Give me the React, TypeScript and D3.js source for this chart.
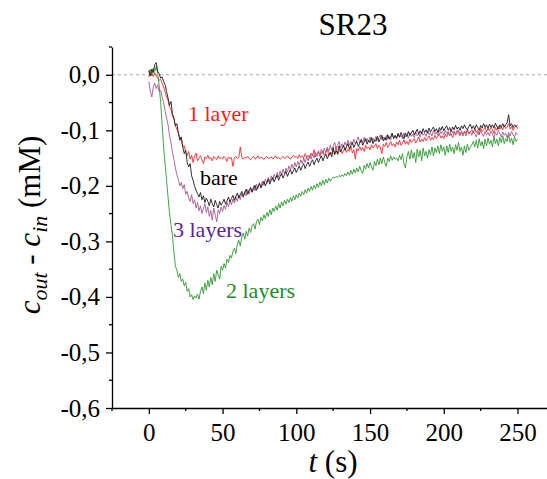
import { useEffect, useRef } from 'react';
import * as d3 from 'd3';

// sampling times (s), one per second from 0 to 250
const times: number[] = d3.range(0, 251, 1);

// c_out - c_in (mM)
const oneLayer: number[] = [
  -0.004, 0.006, 0.002, -0.003, 0.004, -0.002, -0.006, -0.01, -0.008, -0.016,
  -0.022, -0.03, -0.04, -0.046, -0.058, -0.062, -0.075, -0.08, -0.092, -0.098,
  -0.105, -0.112, -0.118, -0.13, -0.128, -0.14, -0.146, -0.138, -0.152, -0.145,
  -0.158, -0.147, -0.141, -0.155, -0.15, -0.146, -0.153, -0.16, -0.148, -0.151,
  -0.145, -0.152, -0.149, -0.155, -0.147, -0.15, -0.153, -0.146, -0.151, -0.149,
  -0.152, -0.147, -0.15, -0.156, -0.148, -0.151, -0.149, -0.165, -0.15, -0.147,
  -0.151, -0.149, -0.13, -0.148, -0.152, -0.149, -0.15, -0.147, -0.151, -0.153,
  -0.149, -0.147, -0.152, -0.15, -0.146, -0.151, -0.148, -0.15, -0.153, -0.149,
  -0.147, -0.151, -0.15, -0.148, -0.152, -0.149, -0.146, -0.151, -0.149, -0.152,
  -0.15, -0.147, -0.151, -0.149, -0.146, -0.15, -0.152, -0.148, -0.145, -0.149,
  -0.147, -0.151, -0.144, -0.149, -0.146, -0.15, -0.142, -0.148, -0.145, -0.15,
  -0.141, -0.146, -0.135, -0.148, -0.143, -0.139, -0.147, -0.141, -0.137, -0.145,
  -0.14, -0.133, -0.146, -0.139, -0.143, -0.136, -0.141, -0.129, -0.144, -0.138,
  -0.135, -0.142, -0.137, -0.131, -0.14, -0.134, -0.138, -0.128, -0.141, -0.135,
  -0.152, -0.133, -0.137, -0.129, -0.136, -0.131, -0.138, -0.127, -0.133, -0.13,
  -0.135, -0.126, -0.132, -0.128, -0.124, -0.133, -0.127, -0.131, -0.142, -0.125,
  -0.129, -0.122, -0.131, -0.126, -0.12, -0.128, -0.124, -0.13, -0.121, -0.126,
  -0.118, -0.127, -0.123, -0.117, -0.125, -0.12, -0.126, -0.116, -0.122, -0.119,
  -0.115, -0.123, -0.118, -0.112, -0.121, -0.116, -0.12, -0.113, -0.119, -0.114,
  -0.11, -0.118, -0.113, -0.117, -0.109, -0.115, -0.111, -0.106, -0.114, -0.11,
  -0.115, -0.107, -0.112, -0.104, -0.11, -0.106, -0.113, -0.103, -0.109, -0.105,
  -0.1, -0.108, -0.104, -0.11, -0.101, -0.106, -0.098, -0.107, -0.103, -0.099,
  -0.105, -0.097, -0.104, -0.1, -0.108, -0.096, -0.102, -0.099, -0.094, -0.103,
  -0.097, -0.101, -0.093, -0.099, -0.106, -0.095, -0.1, -0.092, -0.098, -0.094,
  -0.099, -0.091, -0.097, -0.094, -0.088, -0.098, -0.093, -0.1, -0.095, -0.092,
  -0.097,
];
const bare: number[] = [
  0.008, -0.002, 0.01, 0.004, 0.018, 0.022, 0.006, 0.002, -0.006, -0.004,
  -0.012, -0.018, -0.03, -0.042, -0.055, -0.048, -0.07, -0.078, -0.092, -0.088,
  -0.105, -0.118, -0.112, -0.13, -0.142, -0.136, -0.158, -0.166, -0.16, -0.182,
  -0.19, -0.2, -0.208, -0.214, -0.22, -0.212, -0.225, -0.218, -0.23, -0.222,
  -0.228, -0.236, -0.224, -0.232, -0.238, -0.226, -0.234, -0.24, -0.228, -0.235,
  -0.23, -0.224, -0.233, -0.227, -0.22, -0.229, -0.223, -0.217, -0.226, -0.219,
  -0.213, -0.222, -0.216, -0.21, -0.219, -0.212, -0.206, -0.215, -0.208, -0.203,
  -0.211, -0.205, -0.199, -0.208, -0.201, -0.196, -0.204, -0.198, -0.192, -0.2,
  -0.194, -0.188, -0.197, -0.19, -0.185, -0.193, -0.186, -0.181, -0.19, -0.183,
  -0.178, -0.186, -0.18, -0.174, -0.183, -0.176, -0.171, -0.179, -0.173, -0.168,
  -0.176, -0.17, -0.164, -0.172, -0.165, -0.16, -0.169, -0.162, -0.157, -0.165,
  -0.158, -0.153, -0.162, -0.155, -0.15, -0.158, -0.151, -0.146, -0.155, -0.148,
  -0.143, -0.151, -0.145, -0.14, -0.148, -0.131, -0.144, -0.137, -0.142, -0.128,
  -0.139, -0.133, -0.127, -0.136, -0.13, -0.124, -0.134, -0.127, -0.122, -0.131,
  -0.125, -0.12, -0.129, -0.123, -0.117, -0.127, -0.121, -0.115, -0.125, -0.118,
  -0.122, -0.113, -0.124, -0.117, -0.12, -0.111, -0.121, -0.115, -0.109, -0.119,
  -0.113, -0.118, -0.108, -0.116, -0.111, -0.105, -0.115, -0.109, -0.114, -0.106,
  -0.112, -0.104, -0.11, -0.115, -0.105, -0.111, -0.102, -0.109, -0.105, -0.1,
  -0.108, -0.103, -0.098, -0.107, -0.101, -0.106, -0.097, -0.104, -0.099, -0.105,
  -0.096, -0.103, -0.098, -0.094, -0.102, -0.097, -0.104, -0.095, -0.1, -0.093,
  -0.101, -0.096, -0.092, -0.1, -0.095, -0.102, -0.094, -0.099, -0.091, -0.098,
  -0.094, -0.1, -0.092, -0.097, -0.09, -0.096, -0.099, -0.093, -0.089, -0.097,
  -0.092, -0.098, -0.09, -0.095, -0.1, -0.091, -0.096, -0.088, -0.094, -0.09,
  -0.097, -0.089, -0.094, -0.09, -0.096, -0.087, -0.093, -0.098, -0.09, -0.095,
  -0.088, -0.094, -0.09, -0.086, -0.072, -0.092, -0.088, -0.095, -0.09, -0.093,
  -0.091,
];
const threeLayers: number[] = [
  -0.012, -0.03, -0.04, -0.022, -0.015, -0.025, -0.018, -0.03, -0.028, -0.04,
  -0.05, -0.065, -0.078, -0.09, -0.11, -0.122, -0.14, -0.152, -0.168, -0.18,
  -0.188, -0.2, -0.194, -0.205, -0.198, -0.215, -0.21, -0.222, -0.228, -0.216,
  -0.232, -0.225, -0.24, -0.23, -0.245, -0.236, -0.25, -0.241, -0.232, -0.248,
  -0.238, -0.255, -0.244, -0.262, -0.24, -0.252, -0.265, -0.243, -0.25, -0.238,
  -0.246, -0.235, -0.242, -0.23, -0.238, -0.226, -0.234, -0.224, -0.231, -0.22,
  -0.228, -0.216, -0.225, -0.214, -0.221, -0.21, -0.218, -0.207, -0.215, -0.204,
  -0.212, -0.2, -0.209, -0.197, -0.205, -0.194, -0.202, -0.191, -0.199, -0.188,
  -0.196, -0.185, -0.193, -0.182, -0.19, -0.179, -0.187, -0.176, -0.184, -0.173,
  -0.181, -0.17, -0.178, -0.168, -0.175, -0.164, -0.172, -0.161, -0.169, -0.158,
  -0.166, -0.156, -0.163, -0.153, -0.16, -0.15, -0.158, -0.147, -0.155, -0.145,
  -0.152, -0.142, -0.15, -0.14, -0.147, -0.137, -0.145, -0.134, -0.142, -0.132,
  -0.14, -0.13, -0.138, -0.126, -0.136, -0.129, -0.122, -0.134, -0.127, -0.12,
  -0.132, -0.124, -0.13, -0.121, -0.128, -0.118, -0.127, -0.12, -0.126, -0.116,
  -0.124, -0.118, -0.112, -0.123, -0.116, -0.122, -0.113, -0.12, -0.115, -0.121,
  -0.112, -0.119, -0.114, -0.12, -0.111, -0.118, -0.113, -0.108, -0.117, -0.112,
  -0.118, -0.109, -0.116, -0.111, -0.117, -0.107, -0.114, -0.11, -0.116, -0.106,
  -0.113, -0.109, -0.115, -0.105, -0.112, -0.108, -0.114, -0.104, -0.111, -0.107,
  -0.113, -0.103, -0.11, -0.106, -0.112, -0.102, -0.109, -0.105, -0.111, -0.101,
  -0.108, -0.104, -0.11, -0.1, -0.107, -0.103, -0.109, -0.099, -0.106, -0.102,
  -0.108, -0.1, -0.106, -0.102, -0.109, -0.099, -0.105, -0.101, -0.108, -0.1,
  -0.106, -0.11, -0.101, -0.107, -0.103, -0.11, -0.1, -0.106, -0.102, -0.109,
  -0.101, -0.107, -0.112, -0.103, -0.108, -0.1, -0.106, -0.111, -0.102, -0.108,
  -0.104, -0.11, -0.101, -0.107, -0.113, -0.104, -0.109, -0.1, -0.106, -0.112,
  -0.103, -0.109, -0.105, -0.114, -0.104, -0.11, -0.102, -0.108, -0.112, -0.104,
  -0.108,
];
const twoLayers: number[] = [
  0.004, 0.01, -0.002, 0.012, 0.006, 0.015, 0.002, -0.02, -0.05, -0.09,
  -0.13, -0.16, -0.19, -0.22, -0.25, -0.27, -0.29, -0.32, -0.345, -0.352,
  -0.365, -0.358, -0.372, -0.368, -0.38, -0.374, -0.39, -0.385, -0.4, -0.396,
  -0.405, -0.398, -0.402, -0.395, -0.404, -0.39, -0.382, -0.394, -0.375, -0.388,
  -0.37, -0.382, -0.365, -0.378, -0.358, -0.372, -0.352, -0.36, -0.368, -0.345,
  -0.352, -0.34, -0.348, -0.332, -0.338, -0.325, -0.33, -0.318, -0.312, -0.322,
  -0.305, -0.298, -0.308, -0.292, -0.285, -0.296, -0.282, -0.29, -0.276, -0.284,
  -0.272, -0.268, -0.278, -0.264, -0.26, -0.27, -0.257, -0.263, -0.252, -0.259,
  -0.248, -0.255, -0.243, -0.252, -0.24, -0.246, -0.236, -0.244, -0.232, -0.24,
  -0.229, -0.236, -0.226, -0.233, -0.224, -0.23, -0.221, -0.228, -0.218, -0.225,
  -0.216, -0.222, -0.213, -0.219, -0.21, -0.216, -0.207, -0.213, -0.204, -0.21,
  -0.201, -0.208, -0.199, -0.205, -0.196, -0.203, -0.193, -0.2, -0.19, -0.198,
  -0.188, -0.195, -0.186, -0.192, -0.187, -0.184, -0.186, -0.183, -0.185, -0.181,
  -0.184, -0.18, -0.183, -0.178, -0.182, -0.175, -0.181, -0.172, -0.179, -0.17,
  -0.177, -0.168, -0.175, -0.165, -0.173, -0.178, -0.163, -0.17, -0.16, -0.168,
  -0.158, -0.166, -0.172, -0.156, -0.164, -0.152, -0.162, -0.15, -0.16, -0.148,
  -0.158, -0.165, -0.15, -0.156, -0.146, -0.154, -0.148, -0.152, -0.15, -0.155,
  -0.145, -0.153, -0.142, -0.16, -0.168, -0.148, -0.138, -0.152, -0.135, -0.15,
  -0.14, -0.158, -0.134, -0.148, -0.136, -0.155, -0.132, -0.146, -0.138, -0.15,
  -0.135, -0.144, -0.13, -0.146, -0.132, -0.14, -0.128, -0.142, -0.126, -0.138,
  -0.13, -0.145, -0.128, -0.14, -0.125, -0.138, -0.13, -0.142, -0.126, -0.136,
  -0.122, -0.138, -0.13, -0.145, -0.128, -0.14, -0.125, -0.136, -0.13, -0.126,
  -0.12, -0.13, -0.118, -0.132, -0.115, -0.128, -0.12, -0.133, -0.116, -0.128,
  -0.114, -0.125, -0.118, -0.13, -0.112, -0.124, -0.116, -0.128, -0.113, -0.122,
  -0.11, -0.124, -0.115, -0.12, -0.108, -0.122, -0.114, -0.126, -0.112, -0.12,
  -0.116,
];

const xTicks: number[] = [0, 50, 100, 150, 200, 250];
const xMinorTicks: number[] = [-25, 25, 75, 125, 175, 225];
const yTicks: number[] = [0, -0.1, -0.2, -0.3, -0.4, -0.5, -0.6];
const yMinorTicks: number[] = [0.05, -0.05, -0.15, -0.25, -0.35, -0.45, -0.55];

const FONT = '"Liberation Serif", "Times New Roman", serif';

const App: React.FC = () => {
  const svgRef = useRef<SVGSVGElement | null>(null);

  useEffect(() => {
    if (svgRef.current === null) return;
    const width = 547;
    const height = 479;
    const margin = { top: 47, right: 0, bottom: 71, left: 112 };

    const x = d3
      .scaleLinear()
      .domain([-25, 270])
      .range([margin.left, width - margin.right]);
    const y = d3
      .scaleLinear()
      .domain([-0.6, 0.05])
      .range([height - margin.bottom, margin.top]);

    const svg = d3.select(svgRef.current);
    svg.selectAll('*').remove();
    svg.attr('width', width).attr('height', height);

    svg
      .append('rect')
      .attr('width', width)
      .attr('height', height)
      .attr('fill', '#fff');

    // kesikli sıfır çizgisi
    svg
      .append('line')
      .attr('x1', x(-25))
      .attr('x2', x(270))
      .attr('y1', y(0))
      .attr('y2', y(0))
      .attr('stroke', '#a8a8a8')
      .attr('stroke-width', 1)
      .attr('stroke-dasharray', '3,3');

    // eğriler
    const line = d3
      .line<number>()
      .x((_, i) => x(times[i]))
      .y((d) => y(d));
    const series = [
      { values: twoLayers, color: '#2e9a2e' },
      { values: oneLayer, color: '#ff2a2a' },
      { values: threeLayers, color: '#a5588f' },
      { values: bare, color: '#1a1a1a' },
    ];
    series.forEach((s) => {
      svg
        .append('path')
        .datum(s.values)
        .attr('d', line)
        .attr('fill', 'none')
        .attr('stroke', s.color)
        .attr('stroke-width', 0.9)
        .attr('stroke-linejoin', 'round');
    });

    // x ekseni
    const xAxisG = svg
      .append('g')
      .attr('transform', `translate(0,${height - margin.bottom})`);
    xAxisG
      .call(
        d3
          .axisBottom(x)
          .tickValues(xTicks)
          .tickSize(6)
          .tickSizeOuter(0)
          .tickPadding(9)
          .tickFormat((d) => String(d))
      )
      .attr('font-family', FONT)
      .attr('font-size', 25)
      .call((g) => g.select('.domain').attr('stroke', '#000').attr('stroke-width', 1.3))
      .call((g) => g.selectAll('.tick line').attr('stroke-width', 1.3));
    xAxisG
      .selectAll('.tick text')
      .style('font-family', FONT)
      .style('font-size', '25px')
      .attr('fill', '#000');
    svg
      .append('g')
      .selectAll('line')
      .data(xMinorTicks)
      .enter()
      .append('line')
      .attr('x1', (d) => x(d))
      .attr('x2', (d) => x(d))
      .attr('y1', height - margin.bottom)
      .attr('y2', height - margin.bottom + 3)
      .attr('stroke', '#000')
      .attr('stroke-width', 1.3);

    // y ekseni
    const yAxisG = svg.append('g').attr('transform', `translate(${margin.left},0)`);
    yAxisG
      .call(
        d3
          .axisLeft(y)
          .tickValues(yTicks)
          .tickSize(6)
          .tickSizeOuter(0)
          .tickPadding(6)
          .tickFormat((d) => d3.format('.1f')(d as number).replace('.', ',').replace('−', '-'))
      )
      .attr('font-family', FONT)
      .attr('font-size', 25)
      .call((g) => g.select('.domain').attr('stroke', '#000').attr('stroke-width', 1.3))
      .call((g) => g.selectAll('.tick line').attr('stroke-width', 1.3));
    yAxisG
      .selectAll('.tick text')
      .style('font-family', FONT)
      .style('font-size', '25px')
      .attr('fill', '#000');
    svg
      .append('g')
      .selectAll('line')
      .data(yMinorTicks)
      .enter()
      .append('line')
      .attr('x1', margin.left - 3)
      .attr('x2', margin.left)
      .attr('y1', (d) => y(d))
      .attr('y2', (d) => y(d))
      .attr('stroke', '#000')
      .attr('stroke-width', 1.3);

    // başlık
    svg
      .append('text')
      .attr('x', 353)
      .attr('y', 35)
      .attr('text-anchor', 'middle')
      .attr('font-family', FONT)
      .attr('font-size', 31)
      .attr('fill', '#000')
      .text('SR23');

    // x ekseni başlığı
    const xl = svg
      .append('text')
      .attr('x', 333)
      .attr('y', 472)
      .attr('text-anchor', 'middle')
      .attr('font-family', FONT)
      .attr('font-size', 31)
      .attr('fill', '#000');
    xl.append('tspan').attr('font-style', 'italic').text('t');
    xl.append('tspan').text(' (s)');

    // y ekseni başlığı
    const yl = svg
      .append('text')
      .attr('transform', `translate(40,225) rotate(-90)`)
      .attr('text-anchor', 'middle')
      .attr('font-family', FONT)
      .attr('font-size', 31)
      .attr('fill', '#000');
    yl.append('tspan').attr('font-style', 'italic').text('c');
    yl.append('tspan')
      .attr('font-style', 'italic')
      .attr('font-size', 22)
      .attr('dy', 7)
      .text('out');
    yl.append('tspan').attr('dy', -7).text(' - ');
    yl.append('tspan').attr('font-style', 'italic').text('c');
    yl.append('tspan')
      .attr('font-style', 'italic')
      .attr('font-size', 22)
      .attr('dy', 7)
      .text('in');
    yl.append('tspan').attr('dy', -7).text(' (mM)');

    // eğri etiketleri
    const labels = [
      { text: '1 layer', x: 188, y: 121, color: '#ff1a1a' },
      { text: 'bare', x: 200, y: 185, color: '#000' },
      { text: '3 layers', x: 173, y: 237, color: '#5a23a0' },
      { text: '2 layers', x: 226, y: 298, color: '#1e8c1e' },
    ];
    svg
      .append('g')
      .selectAll('text')
      .data(labels)
      .enter()
      .append('text')
      .attr('x', (d) => d.x)
      .attr('y', (d) => d.y)
      .attr('font-family', FONT)
      .attr('font-size', 22)
      .attr('fill', (d) => d.color)
      .text((d) => d.text);
  }, []);

  return (
    <svg
      ref={svgRef}
      style={{ position: 'absolute', left: 0, top: 0, display: 'block' }}
    ></svg>
  );
};

export default App;
